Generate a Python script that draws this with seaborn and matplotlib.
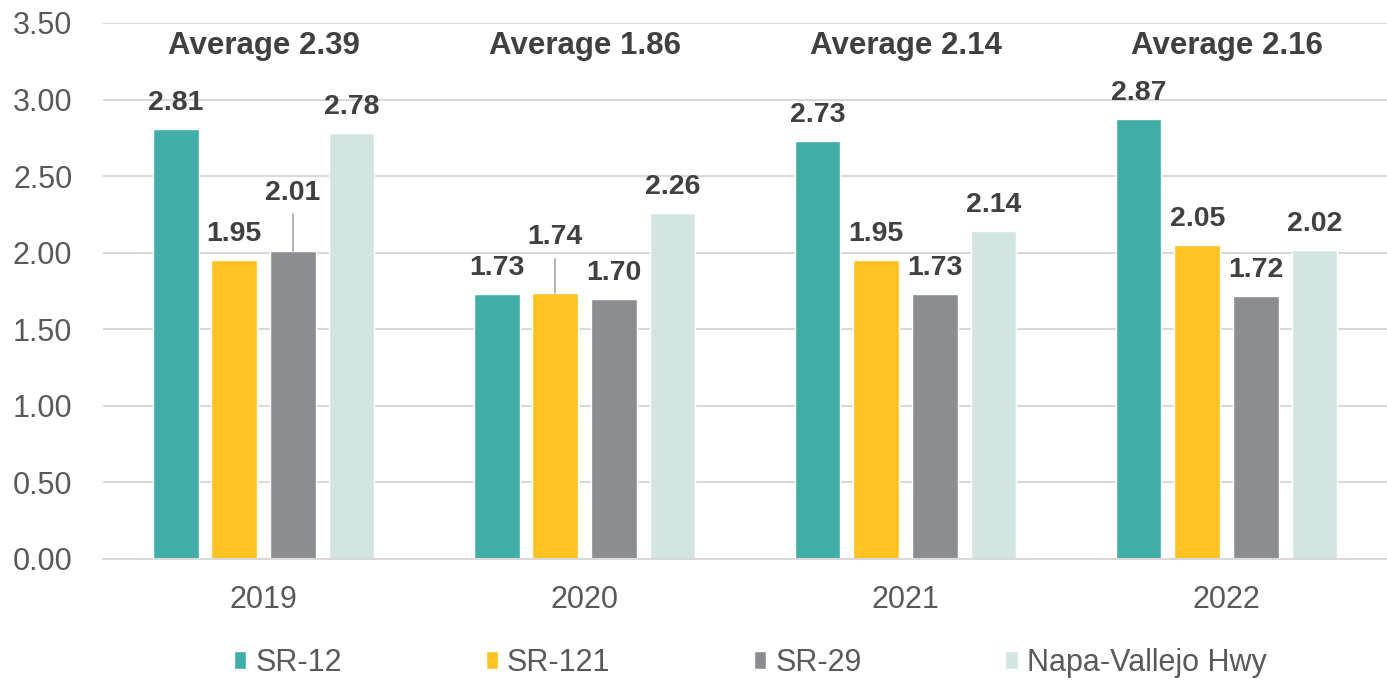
import matplotlib
matplotlib.use("Agg")
import matplotlib.pyplot as plt
import seaborn as sns
import pandas as pd

years = ["2019", "2020", "2021", "2022"]
routes = ["SR-12", "SR-121", "SR-29", "Napa-Vallejo Hwy"]
sr12 = [2.81, 1.73, 2.73, 2.87]
sr121 = [1.95, 1.74, 1.95, 2.05]
sr29 = [2.01, 1.70, 1.73, 1.72]
napa = [2.78, 2.26, 2.14, 2.02]
averages = [2.39, 1.86, 2.14, 2.16]
colors = ["#41ADA7", "#FFC222", "#8C8D91", "#D2E5E3"]

rows = []
for r, vals in zip(routes, [sr12, sr121, sr29, napa]):
    for y, v in zip(years, vals):
        rows.append({"Year": y, "Route": r, "Value": v})
df = pd.DataFrame(rows)

sns.set_theme(style="white")
plt.rcParams["font.family"] = ["Liberation Sans", "DejaVu Sans"]

fig = plt.figure(figsize=(13.87, 6.82), dpi=100)
ax = fig.add_axes([0.0743, 0.1804, 0.9257, 0.7859])
sns.barplot(data=df, x="Year", y="Value", hue="Route", order=years, hue_order=routes,
            palette=colors, width=0.73, gap=0.22, ax=ax, legend=True, saturation=1)

ax.set_ylim(0, 3.5)
ax.set_xlim(-0.5, 3.5)
ax.set_yticks([i * 0.5 for i in range(8)])
ax.set_yticklabels([f"{i*0.5:.2f}" for i in range(8)], fontsize=22, color="#595959")
ax.tick_params(axis="x", labelsize=22, colors="#595959", length=0, pad=19)
ax.tick_params(axis="y", length=0, pad=22)
ax.set_xlabel("")
ax.set_ylabel("")
ax.grid(axis="y", color="#D9D9D9", linewidth=1.5)
ax.set_axisbelow(True)
for s in ["top", "right", "left"]:
    ax.spines[s].set_visible(False)
ax.spines["bottom"].set_color("#D9D9D9")
ax.spines["bottom"].set_linewidth(1.5)

lead = {("SR-29", 0): 2.39, ("SR-121", 1): 2.10}
for cont, r in zip(ax.containers, routes):
    for i, bar in enumerate(cont):
        x = bar.get_x() + bar.get_width() / 2
        h = bar.get_height()
        if (r, i) in lead:
            ly = lead[(r, i)]
            ax.text(x, ly, f"{h:.2f}", ha="center", va="center", fontsize=20.5,
                    fontweight="bold", color="#404040")
            ax.plot([x, x], [h, ly - 0.14], color="#A6A6A6", lw=1.2)
        else:
            ax.text(x, h + 0.17, f"{h:.2f}", ha="center", va="center", fontsize=20.5,
                    fontweight="bold", color="#404040")

for i, a in enumerate(averages):
    ax.text(i, 3.35, f"Average {a:.2f}", ha="center", va="center", fontsize=22.5,
            fontweight="bold", color="#404040")

handles, labels = ax.get_legend_handles_labels()
ax.legend_.remove()
fig.legend(handles, labels, loc="center", bbox_to_anchor=(0.541, 0.028), ncol=4,
           frameon=False, fontsize=22, handlelength=0.4, handleheight=0.5,
           handletextpad=0.3, columnspacing=4.7, labelcolor="#595959")

fig.savefig("out.png", dpi=100)
